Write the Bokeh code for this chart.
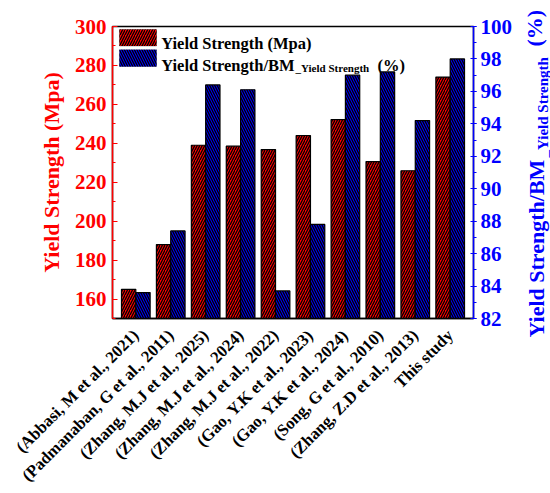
import math
from bokeh.plotting import figure
from bokeh.layouts import row
from bokeh.models import (ColumnDataSource, Range1d, LinearAxis, FixedTicker,
                          SingleIntervalTicker, Label, BoxAnnotation)
from bokeh.transform import dodge
from bokeh.embed import file_html
from bokeh.resources import INLINE

studies = [
    "(Abbasi, M et al., 2021)",
    "(Padmanaban, G et al., 2011)",
    "(Zhang, M.J et al., 2025)",
    "(Zhang, M.J et al., 2024)",
    "(Zhang, M.J et al., 2022)",
    "(Gao, Y.K et al., 2023)",
    "(Gao, Y.K et al., 2024)",
    "(Song, G et al., 2010)",
    "(Zhang, Z.D et al., 2013)",
    "This study",
]
yield_strength = [165.0, 188.0, 239.0, 238.5, 236.8, 244.0, 252.2, 230.6, 225.9, 274.0]
ratio_pct = [83.6, 87.4, 96.4, 96.1, 83.7, 87.8, 97.0, 97.2, 94.2, 98.0]
idx = list(range(len(studies)))

FONT = "Liberation Serif"
RED = "#ff0000"
BLUE = "#0000ff"

TOP, BOTTOM, FH = 26, 175, 292
H = TOP + FH + BOTTOM

src = ColumnDataSource(dict(idx=idx, study=studies, ys=yield_strength, ratio=ratio_pct))

p = figure(
    x_range=Range1d(-0.667, len(studies) - 1 + 0.667),
    y_range=Range1d(150, 300),
    frame_width=361, frame_height=FH,
    min_border_left=112, min_border_right=41, min_border_top=TOP, min_border_bottom=BOTTOM,
    output_backend="svg", toolbar_location=None,
)
p.frame_align = False
p.extra_y_ranges = {"pct": Range1d(82, 100)}
p.grid.visible = False
p.outline_line_color = "black"
p.outline_line_width = 1.5

hatch = dict(hatch_color="black", hatch_scale=5, hatch_weight=1.3)
r1 = p.vbar(x=dodge("idx", -0.205), top="ys", bottom=p.y_range.start,
            width=0.41, source=src, fill_color=RED, line_color="black", line_width=1.2,
            hatch_pattern="right_diagonal_line", **hatch)
r2 = p.vbar(x=dodge("idx", 0.205), top="ratio", bottom=82,
            width=0.41, source=src, y_range_name="pct", fill_color=BLUE, line_color="black",
            line_width=1.2, hatch_pattern="left_diagonal_line", **hatch)

# left axis
ya = p.yaxis[0]
ya.ticker = SingleIntervalTicker(interval=20, num_minor_ticks=2)
ya.axis_label = "Yield Strength (Mpa)"
ya.axis_line_color = RED
ya.axis_line_width = 1.5
ya.major_tick_line_color = RED
ya.minor_tick_line_color = RED
ya.major_tick_in = 5
ya.major_tick_out = 0
ya.minor_tick_in = 3
ya.minor_tick_out = 0
ya.major_label_text_color = RED
ya.major_label_text_font = FONT
ya.major_label_text_font_style = "bold"
ya.major_label_text_font_size = "21px"
ya.major_label_standoff = 6
ya.axis_label_text_color = RED
ya.axis_label_text_font = FONT
ya.axis_label_text_font_style = "bold"
ya.axis_label_text_font_size = "22px"
ya.axis_label_standoff = 8

# right axis
ra = LinearAxis(y_range_name="pct", ticker=SingleIntervalTicker(interval=2, num_minor_ticks=2))
ra.axis_line_color = BLUE
ra.axis_line_width = 1.5
ra.major_tick_line_color = BLUE
ra.minor_tick_line_color = BLUE
ra.major_tick_in = 3
ra.major_tick_out = 3
ra.minor_tick_in = 0
ra.minor_tick_out = 3
ra.major_label_text_color = BLUE
ra.major_label_text_font = FONT
ra.major_label_text_font_style = "bold"
ra.major_label_text_font_size = "21px"
ra.major_label_standoff = 4
p.add_layout(ra, "right")

# bottom axis
xa = p.xaxis[0]
xa.ticker = FixedTicker(ticks=idx)
xa.major_label_overrides = {i: s for i, s in zip(idx, studies)}
xa.major_label_orientation = math.pi / 4
xa.major_label_text_font = FONT
xa.major_label_text_font_style = "bold"
xa.major_label_text_font_size = "16.7px"
xa.major_label_text_color = "black"
xa.major_tick_line_color = None
xa.minor_tick_line_color = None
xa.axis_line_color = "black"
xa.axis_line_width = 1.5
xa.major_label_standoff = 8


def lab(fig, x, y, text, size, color, angle=0.0, x_units="data"):
    fig.add_layout(Label(x=x, y=y, x_units=x_units, text=text, angle=angle, text_font=FONT,
                         text_font_style="bold", text_font_size=size, text_color=color,
                         text_align="left", text_baseline="alphabetic"))


# legend (swatches + texts)
p.add_layout(BoxAnnotation(left=-0.467, right=0.593, top=298.46, bottom=290.0,
                           fill_color=RED, fill_alpha=1, line_color="black", line_width=1,
                           hatch_pattern="right_diagonal_line", **hatch))
p.add_layout(BoxAnnotation(left=-0.467, right=0.593, top=288.0, bottom=279.45,
                           fill_color=BLUE, fill_alpha=1, line_color="black", line_width=1,
                           hatch_pattern="left_diagonal_line", **hatch))
lab(p, 0.727, 291.3, "Yield Strength (Mpa)", "16.5px", "black")
lab(p, 0.727, 280.2, "Yield Strength/BM", "16.5px", "black")
lab(p, 4.572, 278.9, "_Yield Strength", "11px", "black")
lab(p, 6.92, 280.2, "(%)", "16.5px", "black")

# right-hand title strip: own full-height frame; x in screen px from its left edge
X0 = 513
W2 = 550 - X0
q = figure(width=W2, height=H, x_range=Range1d(0, W2), y_range=Range1d(0, H),
           min_border=0, x_axis_location=None, y_axis_location=None,
           output_backend="svg", toolbar_location=None)
q.frame_align = False
q.grid.visible = False
q.outline_line_color = None
lab(q, 534 - X0, H - 337, "Yield Strength/BM", "22px", BLUE, math.pi / 2, "screen")
lab(q, 540 - X0, H - 157, "_Yield Strength", "15px", BLUE, math.pi / 2, "screen")
lab(q, 532 - X0, H - 46, "(%)", "22px", BLUE, math.pi / 2, "screen")

layout = row(p, q)
open("out.html", "w").write(file_html(layout, INLINE))
